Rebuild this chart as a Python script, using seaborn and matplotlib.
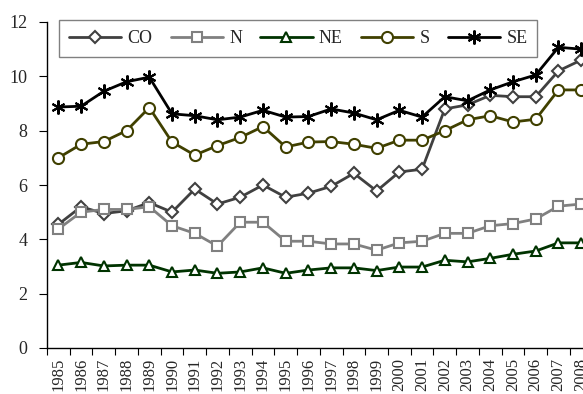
import pandas as pd
import matplotlib.pyplot as plt
import seaborn as sns
import numpy as np

years = list(range(1985, 2009))

co = [4.55, 5.2, 4.95, 5.05, 5.35, 5.0, 5.85, 5.3, 5.55, 6.0, 5.55, 5.7,
      5.95, 6.43, 5.78, 6.48, 6.58, 8.8, 8.95, 9.3, 9.25, 9.25, 10.2, 10.6]
n = [4.38, 5.0, 5.1, 5.1, 5.2, 4.5, 4.22, 3.75, 4.63, 4.63, 3.93, 3.93,
     3.83, 3.83, 3.6, 3.87, 3.93, 4.22, 4.22, 4.5, 4.58, 4.75, 5.22, 5.3]
ne = [3.05, 3.15, 3.02, 3.05, 3.05, 2.8, 2.87, 2.75, 2.8, 2.95, 2.75, 2.87,
      2.95, 2.95, 2.85, 2.98, 2.98, 3.23, 3.17, 3.3, 3.45, 3.57, 3.87, 3.87]
s = [7.0, 7.5, 7.6, 8.0, 8.85, 7.58, 7.1, 7.45, 7.75, 8.15, 7.4, 7.58,
     7.6, 7.5, 7.35, 7.65, 7.65, 8.0, 8.4, 8.55, 8.32, 8.42, 9.5, 9.5]
se = [8.87, 8.9, 9.45, 9.8, 9.97, 8.62, 8.55, 8.4, 8.5, 8.75, 8.5, 8.52,
      8.8, 8.65, 8.4, 8.75, 8.5, 9.25, 9.1, 9.5, 9.8, 10.05, 11.07, 11.0]

names = ['CO', 'N', 'NE', 'S', 'SE']
values = [co, n, ne, s, se]
colors = ['#404040', '#808080', '#003300', '#404000', '#000000']
markers = ['D', 's', '^', 'o', (6, 2, 0)]
msizes = [6, 7, 7, 8, 10]
mfaces = ['white', 'white', 'white', 'white', 'black']

sns.set_style('ticks')
plt.rcParams['font.family'] = ['Liberation Serif', 'DejaVu Serif']

fig = plt.figure(figsize=(5.83, 3.94), dpi=100)
ax = fig.add_axes([47 / 583, 1 - 348 / 394, 1 - 47 / 583, (348 - 22) / 394])

idx = np.arange(len(years))
for name, vals, c, m, ms, mf in zip(names, values, colors, markers, msizes, mfaces):
    df = pd.DataFrame({'x': idx, 'y': vals})
    sns.lineplot(data=df, x='x', y='y', ax=ax, color=c, marker=m,
                 markersize=ms, markerfacecolor=mf, markeredgecolor=c,
                 markeredgewidth=1.5, linewidth=2, label=name)

ax.set_xlim(-0.5, 23.08)
ax.set_ylim(0, 12)
ax.set_yticks(range(0, 13, 2))
ax.set_xticks(idx - 0.5)
ax.set_xticklabels([])
ax.set_xticks(idx, minor=True)
ax.set_xticklabels([str(y) for y in years], minor=True, rotation=90, fontsize=12)
ax.tick_params(axis='x', which='minor', length=0, pad=7)
ax.tick_params(axis='x', which='major', length=5, direction='out', color='black')
ax.tick_params(axis='y', labelsize=13, length=6, pad=8, direction='out', color='black')
ax.set_xlabel('')
ax.set_ylabel('')
for sp in ['top', 'right']:
    ax.spines[sp].set_visible(False)
for sp in ['left', 'bottom']:
    ax.spines[sp].set_color('black')
    ax.spines[sp].set_linewidth(1)

leg = ax.legend(loc='upper left', bbox_to_anchor=(59 / 583, 1 - 20 / 394),
                bbox_transform=fig.transFigure, ncol=5, fontsize=13,
                frameon=True, fancybox=False, edgecolor='#606060',
                handlelength=2.9, handletextpad=0.35, columnspacing=1.0,
                borderaxespad=0, borderpad=0.55)
leg.get_frame().set_linewidth(1)

fig.savefig('out.png', dpi=100)
